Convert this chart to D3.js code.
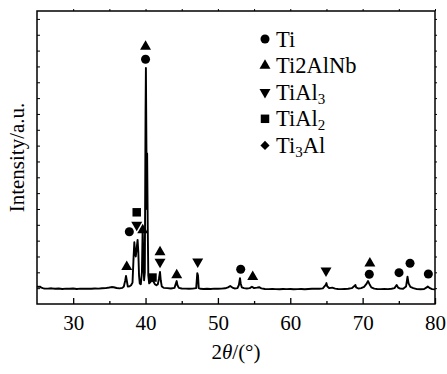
<!DOCTYPE html>
<html>
<head>
<meta charset="utf-8">
<script src="https://cdn.jsdelivr.net/npm/d3@7"></script>
<style>
  body { margin: 0; background: #fff; }
  svg { display: block; }
</style>
</head>
<body>
<div id="chart"></div>
<script>
// XRD pattern: 2theta (deg) and intensity (a.u.)
const twoTheta = [
  25.0, 25.2, 25.4, 25.6, 25.8, 26.0, 26.5, 27.0, 27.5, 28.0, 28.5, 29.0, 29.5, 30.0, 30.5, 31.0,
  31.5, 32.0, 32.5, 33.0, 33.5, 34.0, 34.5, 35.0, 35.3, 35.6, 36.0, 36.4, 36.8, 37.0, 37.2, 37.3,
  37.4, 37.55, 37.8, 38.0, 38.2, 38.35, 38.45, 38.55, 38.65, 38.75, 38.9, 39.0, 39.1, 39.2, 39.35, 39.5,
  39.6, 39.7, 39.8, 39.9, 40.0, 40.05, 40.12, 40.17, 40.22, 40.3, 40.38, 40.5, 40.7, 40.9, 41.1, 41.3,
  41.5, 41.7, 41.85, 42.0, 42.1, 42.25, 42.5, 43.0, 43.5, 44.0, 44.2, 44.3, 44.4, 44.6, 45.0, 45.5,
  46.0, 46.5, 47.0, 47.15, 47.25, 47.35, 47.6, 48.0, 48.5, 49.0, 49.5, 50.0, 50.5, 51.0, 51.4, 51.7,
  52.0, 52.3, 52.7, 52.9, 53.05, 53.15, 53.3, 53.6, 54.0, 54.4, 54.7, 55.0, 55.4, 55.7, 56.0, 56.5,
  57.0, 57.5, 58.0, 58.5, 59.0, 59.5, 60.0, 60.5, 61.0, 61.5, 62.0, 62.5, 63.0, 63.5, 64.0, 64.5,
  64.9, 65.0, 65.1, 65.4, 65.8, 66.2, 66.6, 67.0, 67.5, 68.0, 68.5, 68.9, 69.0, 69.1, 69.4, 69.8,
  70.2, 70.5, 70.75, 70.95, 71.2, 71.6, 72.0, 72.5, 73.0, 73.5, 74.0, 74.4, 74.7, 74.9, 75.2, 75.6,
  76.0, 76.2, 76.35, 76.6, 77.0, 77.5, 78.0, 78.5, 78.8, 79.0, 79.3, 79.6, 80.0
];
const intensity = [
  112, 108, 110, 103, 100, 98, 97, 99, 96, 98, 95, 97, 96, 98, 95, 97,
  96, 97, 96, 98, 97, 99, 100, 104, 107, 106, 101, 99, 102, 110, 150, 177,
  150, 110, 112, 118, 135, 300, 390, 330, 300, 340, 405, 330, 180, 130, 125, 200,
  480, 300, 150, 200, 1200, 1490, 1000, 600, 950, 500, 180, 130, 140, 155, 140, 125,
  118, 125, 160, 202, 150, 110, 102, 100, 98, 102, 130, 145, 120, 102, 98, 97,
  96, 97, 100, 195, 180, 100, 96, 95, 96, 95, 97, 96, 97, 99, 105, 114,
  104, 98, 100, 120, 163, 130, 105, 100, 98, 100, 109, 100, 103, 106, 99, 95,
  94, 95, 94, 93, 95, 94, 95, 93, 94, 95, 93, 95, 96, 97, 96, 99,
  120, 132, 112, 100, 103, 97, 95, 94, 95, 96, 100, 115, 120, 105, 98, 100,
  108, 125, 145, 125, 105, 97, 95, 94, 95, 94, 96, 100, 120, 104, 97, 96,
  110, 172, 130, 108, 100, 94, 93, 95, 103, 111, 100, 94, 92
];

// phase markers: position, height and phase
const markerTheta = [40.0, 40.0, 38.78, 38.78, 37.76, 39.61, 37.4, 42.0, 42.0, 40.96,
  44.31, 47.21, 53.15, 54.81, 64.94, 71.0, 70.92, 75.03, 76.55, 79.08];
const markerLevel = [1625, 1545, 579, 499, 456, 467, 235, 328, 265, 167,
  183, 267, 219, 172, 210, 257, 188, 198, 257, 189];
const markerPhase = ['Ti2AlNb', 'Ti', 'TiAl2', 'TiAl3', 'Ti', 'Ti2AlNb', 'Ti2AlNb', 'Ti2AlNb', 'TiAl3', 'TiAl2',
  'Ti2AlNb', 'TiAl3', 'Ti', 'Ti2AlNb', 'TiAl3', 'Ti2AlNb', 'Ti', 'Ti', 'Ti', 'Ti'];

// legend entries: key, base text, subscript, tail
const legendKeys = ['Ti', 'Ti2AlNb', 'TiAl3', 'TiAl2', 'Ti3Al'];
const legendParts = [['Ti', '', ''], ['Ti2AlNb', '', ''], ['TiAl', '3', ''], ['TiAl', '2', ''], ['Ti', '3', 'Al']];

const xMajorTicks = [30, 40, 50, 60, 70, 80];
const xMinorTicks = [35, 45, 55, 65, 75];

const FONT = "'Liberation Serif', 'Times New Roman', serif";
const W = 447;
const H = 374;
const margin = { top: 11, right: 12, bottom: 70, left: 37 };
const width = W - margin.left - margin.right;
const height = H - margin.top - margin.bottom;

const svg = d3.select('#chart').append('svg').attr('width', W).attr('height', H).attr('font-family', FONT);
svg.append('rect').attr('width', W).attr('height', H).attr('fill', '#fff');
const g = svg.append('g').attr('transform', `translate(${margin.left},${margin.top})`);

const x = d3.scaleLinear().domain([25, 80]).range([0, width]);
const y = d3.scaleLinear().domain([0, 1850]).range([height, 0]);

// bottom axis: labelled major ticks + short minor ticks, pointing inward
g.append('g')
  .attr('transform', `translate(0,${height})`)
  .call(d3.axisBottom(x).tickValues(xMajorTicks).tickSize(-6).tickPadding(11).tickFormat(d3.format('d')))
  .attr('font-family', FONT)
  .call((a) => a.select('.domain').remove())
  .call((a) => a.selectAll('line').attr('stroke-width', 1.3))
  .call((a) => a.selectAll('text').attr('font-size', 21).attr('fill', '#000'));
g.append('g')
  .attr('transform', `translate(0,${height})`)
  .call(d3.axisBottom(x).tickValues(xMinorTicks).tickSize(-3).tickFormat(''))
  .call((a) => a.select('.domain').remove())
  .call((a) => a.selectAll('line').attr('stroke-width', 1.3));

// top axis: tiny ticks every 5 deg
g.append('g')
  .call(d3.axisTop(x).tickValues(xMajorTicks.concat(xMinorTicks)).tickSize(2).tickFormat(''))
  .call((a) => a.select('.domain').remove());

// left / right axes: unlabelled ticks
const yTicks = d3.range(100, 1850, 100);
g.append('g')
  .call(d3.axisLeft(y).tickValues(yTicks).tickSize(-3).tickFormat(''))
  .call((a) => a.select('.domain').remove());
g.append('g')
  .attr('transform', `translate(${width},0)`)
  .call(d3.axisRight(y).tickValues(yTicks).tickSize(2).tickFormat(''))
  .call((a) => a.select('.domain').remove());

// frame
g.append('rect').attr('width', width).attr('height', height)
  .attr('fill', 'none').attr('stroke', '#000').attr('stroke-width', 1.5);

// pattern
const line = d3.line().x((d) => x(d[0])).y((d) => y(d[1]));
g.append('path')
  .datum(twoTheta.map((t, i) => [t, intensity[i]]))
  .attr('fill', 'none').attr('stroke', '#000').attr('stroke-width', 1.9)
  .attr('stroke-linejoin', 'round')
  .attr('d', line);

// marker shapes per phase
const symbolFor = {
  Ti: { type: d3.symbolCircle, size: 64, rot: 0 },
  Ti2AlNb: { type: d3.symbolTriangle, size: 52, rot: 0 },
  TiAl3: { type: d3.symbolTriangle, size: 52, rot: 180 },
  TiAl2: { type: d3.symbolSquare, size: 72, rot: 0 },
  Ti3Al: { type: d3.symbolSquare, size: 42, rot: 45 },
};
const drawSymbol = (parent, phase, cx, cy) => {
  const s = symbolFor[phase];
  parent.append('path')
    .attr('d', d3.symbol().type(s.type).size(s.size)())
    .attr('transform', `translate(${cx},${cy}) rotate(${s.rot})`)
    .attr('fill', '#000');
};

markerTheta.forEach((t, i) => drawSymbol(g, markerPhase[i], x(t), y(markerLevel[i])));

// legend
const legend = svg.append('g').attr('transform', 'translate(265,39)');
legendKeys.forEach((key, i) => {
  const row = legend.append('g').attr('transform', `translate(0,${i * 26.6})`);
  drawSymbol(row, key, 0, 0);
  const [base, sub, tail] = legendParts[i];
  const text = row.append('text').attr('x', 11).attr('y', 7.5).attr('font-size', 22.5).attr('fill', '#000');
  text.append('tspan').text(base);
  if (sub) text.append('tspan').attr('font-size', 15).attr('dy', 4).text(sub);
  if (tail) text.append('tspan').attr('dy', -4).text(tail);
});

// axis titles
const xTitle = svg.append('text')
  .attr('x', margin.left + width / 2).attr('y', 359)
  .attr('text-anchor', 'middle').attr('font-size', 21).attr('fill', '#000');
xTitle.append('tspan').text('2');
xTitle.append('tspan').attr('font-style', 'italic').text('θ');
xTitle.append('tspan').text('/(°)');

svg.append('text')
  .attr('transform', `translate(24,${margin.top + height / 2}) rotate(-90)`)
  .attr('text-anchor', 'middle').attr('font-size', 21).attr('fill', '#000')
  .text('Intensity/a.u.');
</script>
</body>
</html>
